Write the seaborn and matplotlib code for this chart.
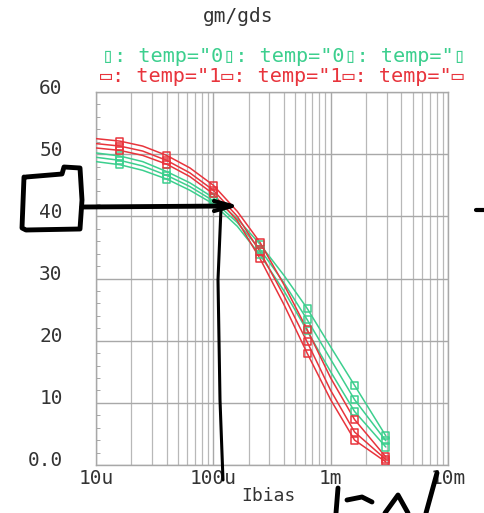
import numpy as np
import pandas as pd
import matplotlib
matplotlib.use("Agg")
import matplotlib.pyplot as plt
from matplotlib.lines import Line2D
from matplotlib.ticker import FixedLocator, NullFormatter, LogLocator
import matplotlib.transforms as mtransforms
import seaborn as sns

# ---- data ----
ibias = [1e-5, 1.6e-5, 2.5e-5, 4e-5, 6.3e-5, 1e-4, 1.6e-4, 2.5e-4, 4e-4, 6.3e-4, 1e-3, 1.6e-3, 2.95e-3]
red1 = [52.5, 52.1, 51.3, 49.8, 47.8, 45.0, 40.8, 35.8, 29.0, 21.8, 14.0, 7.3, 1.3]
red2 = [51.7, 51.3, 50.5, 49.0, 47.0, 44.2, 40.0, 34.3, 27.2, 19.8, 12.0, 5.3, 0.9]
red3 = [51.0, 50.6, 49.8, 48.4, 46.4, 43.6, 39.3, 33.2, 25.8, 18.0, 10.5, 4.0, 0.5]
green1 = [50.2, 49.7, 48.8, 47.2, 45.4, 43.0, 39.6, 35.5, 30.5, 25.2, 19.0, 12.8, 4.7]
green2 = [49.5, 49.0, 48.1, 46.6, 44.8, 42.5, 39.0, 34.7, 29.3, 23.4, 17.0, 10.5, 3.9]
green3 = [48.8, 48.3, 47.4, 46.0, 44.2, 42.0, 38.4, 33.8, 28.0, 21.6, 15.0, 8.6, 2.9]
marker_idx = [1, 3, 5, 7, 9, 11, 12]
series_names = ["g1", "g2", "g3", "r1", "r2", "r3"]
series_vals = [green1, green2, green3, red1, red2, red3]
y_ticks = [0, 10, 20, 30, 40, 50, 60]
y_labels = ["0.0", "10", "20", "30", "40", "50", "60"]
x_ticks = [1e-5, 1e-4, 1e-3, 1e-2]
x_labels = ["10u", "100u", "1m", "10m"]
legend_green = '▯: temp="0▯: temp="0▯: temp="▯'
legend_red = '▭: temp="1▭: temp="1▭: temp="▭'

GREEN = "#3ccf8e"
RED = "#e8343c"
TXT = "#333333"
palette = {"g1": GREEN, "g2": GREEN, "g3": GREEN, "r1": RED, "r2": RED, "r3": RED}

rows = []
for n, vals in zip(series_names, series_vals):
    for i, (x, y) in enumerate(zip(ibias, vals)):
        rows.append({"Ibias": x, "val": y, "curve": n, "mark": i in marker_idx})
df = pd.DataFrame(rows)

sns.set_style("white")
plt.rcParams['font.family'] = ['DejaVu Sans Mono', 'DejaVu Sans']

fig = plt.figure(figsize=(4.85, 5.13), dpi=100)
ax = fig.add_axes([96/485, 1-465/513, (448-96)/485, (465-92)/513])

sns.lineplot(data=df, x="Ibias", y="val", hue="curve", palette=palette,
             ax=ax, legend=False, linewidth=1.1, zorder=3)
sns.scatterplot(data=df[df["mark"]], x="Ibias", y="val", hue="curve", palette=palette,
                ax=ax, legend=False, marker="s", s=26, linewidth=1.1, zorder=4)
for coll in ax.collections:
    fc = coll.get_facecolors()
    if len(fc):
        coll.set_edgecolors(fc)
        coll.set_facecolors("none")

ax.set_xscale("log")
ax.set_xlim(1e-5, 1e-2)
ax.set_ylim(0, 60)
ax.xaxis.set_major_locator(FixedLocator(x_ticks))
ax.xaxis.set_minor_locator(LogLocator(base=10, subs=np.arange(2, 10)))
ax.xaxis.set_minor_formatter(NullFormatter())
ax.set_xticks(x_ticks)
ax.set_xticklabels(x_labels, fontsize=14, color=TXT)
ax.set_yticks(y_ticks)
ax.set_yticklabels(y_labels, fontsize=14, color=TXT)
ax.yaxis.set_minor_locator(FixedLocator(np.arange(0, 61, 2)))
ax.tick_params(axis="both", which="both", length=0)
ax.tick_params(axis="x", pad=3)
ax.tick_params(axis="y", pad=24)
ax.tick_params(axis="y", which="minor", length=3, direction="in", color="#999999", left=True)
off = mtransforms.ScaledTranslation(0, 6/100, fig.dpi_scale_trans)
for lbl in ax.get_yticklabels():
    lbl.set_transform(lbl.get_transform() + off)
ax.grid(True, which="major", color="#a8a8a8", linewidth=1.0)
ax.grid(True, which="minor", axis="x", color="#b8b8b8", linewidth=0.9)
for s in ax.spines.values():
    s.set_color("#a8a8a8")
    s.set_linewidth(1.0)
ax.set_xlabel("")
ax.set_ylabel("")

fig.text(268/485, 1-496/513, "Ibias", fontsize=13, ha="center", va="center", color=TXT)
fig.text(238/485, 1-16/513, "gm/gds", fontsize=14, ha="center", va="center", color=TXT)
fig.text(102/485, 1-57/513, legend_green, fontsize=14.5,
         color=GREEN, va="center", ha="left")
fig.text(100/485, 1-76/513, legend_red, fontsize=14.5,
         color=RED, va="center", ha="left")

# hand-drawn annotations (figure pixel coords)
def fline(xs, ys, lw=3.5):
    fig.add_artist(Line2D([x/485 for x in xs], [1-y/513 for y in ys],
                          color="black", linewidth=lw, solid_capstyle="round",
                          solid_joinstyle="round"))

fline([24, 22, 26, 80, 82, 80, 64, 62, 26], [177, 228, 230, 229, 200, 168, 167, 174, 177])
fline([82, 230], [207, 206])
fline([214, 232, 214], [201, 206, 211], lw=3)
fline([221, 218, 220, 223], [208, 280, 400, 480], lw=2.2)
fline([476, 485], [210, 210], lw=3)
fline([338, 336], [488, 513], lw=3.5)
fline([347, 362, 372], [500, 497, 502], lw=3.5)
fline([385, 398, 408], [513, 495, 513], lw=3.5)
fline([437, 426], [473, 513], lw=3.5)

fig.savefig("out.png", dpi=100, facecolor="white")
